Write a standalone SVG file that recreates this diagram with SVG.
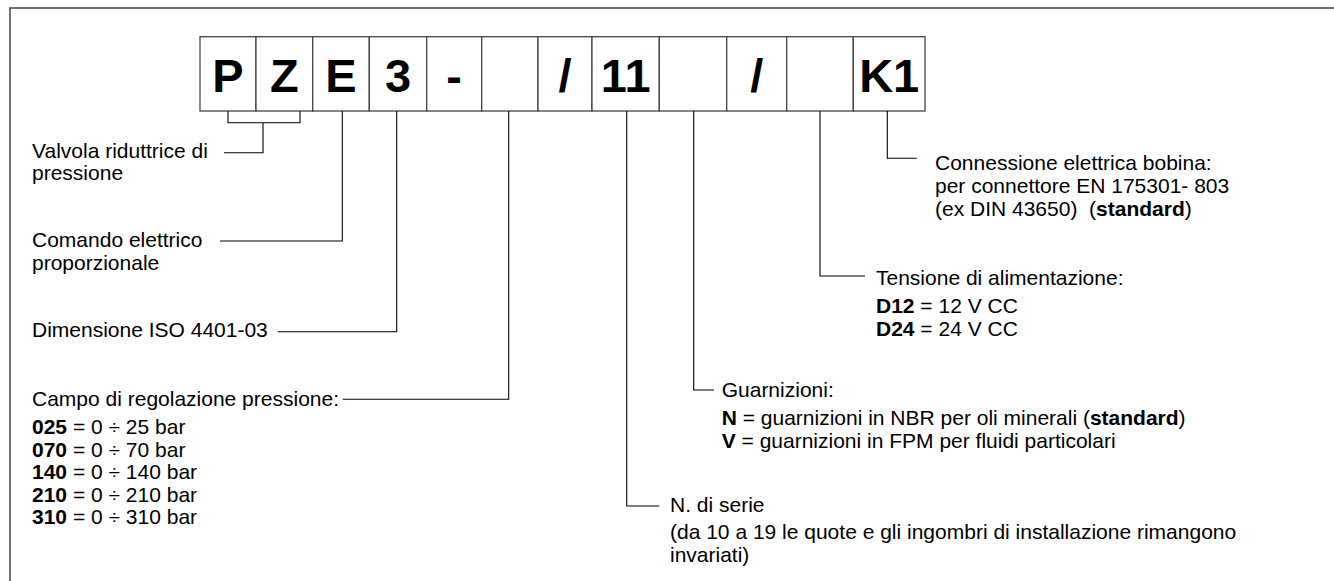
<svg xmlns="http://www.w3.org/2000/svg" width="1334" height="581" viewBox="0 0 1334 581">
<style>
.frame{fill:none;stroke:#444;stroke-width:1.5}
.box{fill:#fff;stroke:#444;stroke-width:1.3}
.code{font-family:"Liberation Sans",Arial,sans-serif;font-weight:bold;font-size:47px;fill:#000;text-anchor:middle}
.t{font-family:"Liberation Sans",Arial,sans-serif;font-size:21px;fill:#000}
.b{font-weight:bold}
.conn{fill:none;stroke:#000;stroke-width:1.1}
</style>
<rect width="1334" height="581" fill="#fff"/>
<path class="frame" d="M10,581 V8 H1334"/>
<g id="code">
<g id="box-P"><rect class="box" x="200" y="36.7" width="56" height="74.3"/><text class="code" x="228" y="92">P</text></g>
<g id="box-Z"><rect class="box" x="256" y="36.7" width="56.7" height="74.3"/><text class="code" x="284.3" y="92">Z</text></g>
<g id="box-E"><rect class="box" x="312.7" y="36.7" width="56.6" height="74.3"/><text class="code" x="341" y="92">E</text></g>
<g id="box-3"><rect class="box" x="369.3" y="36.7" width="57.4" height="74.3"/><text class="code" x="398" y="92">3</text></g>
<g id="box-dash"><rect class="box" x="426.7" y="36.7" width="55" height="74.3"/><text class="code" x="454.2" y="92">-</text></g>
<g id="box-range"><rect class="box" x="481.7" y="36.7" width="56.3" height="74.3"/></g>
<g id="box-slash1"><rect class="box" x="538" y="36.7" width="54" height="74.3"/><text class="code" x="565" y="92">/</text></g>
<g id="box-11"><rect class="box" x="592" y="36.7" width="67.3" height="74.3"/><text class="code" x="625.7" y="92">11</text></g>
<g id="box-seals"><rect class="box" x="659.3" y="36.7" width="67.4" height="74.3"/></g>
<g id="box-slash2"><rect class="box" x="726.7" y="36.7" width="60" height="74.3"/><text class="code" x="756.7" y="92">/</text></g>
<g id="box-voltage"><rect class="box" x="786.7" y="36.7" width="66.6" height="74.3"/></g>
<g id="box-K1"><rect class="box" x="853.3" y="36.7" width="71.7" height="74.3"/><text class="code" x="889.2" y="92">K1</text></g>
</g>
<g id="connectors">
<path class="conn" d="M228,111 V122.7 H300 V111 M263,122.7 V152.7 H224"/>
<path class="conn" d="M342.3,111 V241 H220"/>
<path class="conn" d="M396.7,111 V331.7 H277.7"/>
<path class="conn" d="M508.7,111 V399.3 H342.7"/>
<path class="conn" d="M626.7,111 V506 H659.3"/>
<path class="conn" d="M693.7,111 V390 H714"/>
<path class="conn" d="M820,111 V276 H865"/>
<path class="conn" d="M887.3,111 V158.3 H916.7"/>
</g>
<g id="label-valvola"><text class="t" x="32" y="157.5">Valvola riduttrice di</text><text class="t" x="32" y="180">pressione</text></g>
<g id="label-comando"><text class="t" x="32" y="247">Comando elettrico</text><text class="t" x="32" y="269.5">proporzionale</text></g>
<g id="label-dimensione"><text class="t" x="32" y="337.3">Dimensione ISO 4401-03</text></g>
<g id="label-campo">
<text class="t" x="32" y="406">Campo di regolazione pressione:</text>
<text class="t" x="32" y="434.3"><tspan class="b">025</tspan> = 0 ÷ 25 bar</text>
<text class="t" x="32" y="456.8"><tspan class="b">070</tspan> = 0 ÷ 70 bar</text>
<text class="t" x="32" y="479.3"><tspan class="b">140</tspan> = 0 ÷ 140 bar</text>
<text class="t" x="32" y="501.8"><tspan class="b">210</tspan> = 0 ÷ 210 bar</text>
<text class="t" x="32" y="524.3"><tspan class="b">310</tspan> = 0 ÷ 310 bar</text>
</g>
<g id="label-connessione">
<text class="t" x="935" y="170">Connessione elettrica bobina:</text>
<text class="t" x="935" y="193">per connettore EN 175301- 803</text>
<text class="t" x="935" y="216" xml:space="preserve">(ex DIN 43650)  (<tspan class="b">standard</tspan>)</text>
</g>
<g id="label-tensione">
<text class="t" x="876" y="285">Tensione di alimentazione:</text>
<text class="t" x="876" y="313"><tspan class="b">D12</tspan> = 12 V CC</text>
<text class="t" x="876" y="336"><tspan class="b">D24</tspan> = 24 V CC</text>
</g>
<g id="label-guarnizioni">
<text class="t" x="721.7" y="397">Guarnizioni:</text>
<text class="t" x="721.7" y="425"><tspan class="b">N</tspan> = guarnizioni in NBR per oli minerali (<tspan class="b">standard</tspan>)</text>
<text class="t" x="721.7" y="448"><tspan class="b">V</tspan> = guarnizioni in FPM per fluidi particolari</text>
</g>
<g id="label-serie">
<text class="t" x="670" y="512">N. di serie</text>
<text class="t" x="670" y="539">(da 10 a 19 le quote e gli ingombri di installazione rimangono</text>
<text class="t" x="670" y="562">invariati)</text>
</g>
</svg>
